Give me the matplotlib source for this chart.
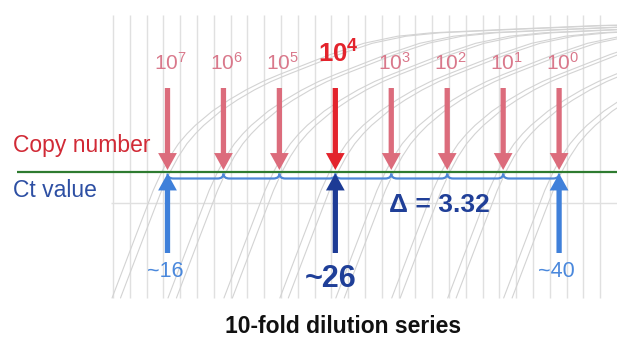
import matplotlib
matplotlib.use("Agg")
import matplotlib.pyplot as plt
import numpy as np
from matplotlib.path import Path
from matplotlib.patches import PathPatch

plt.rcParams['font.family'] = ['Liberation Sans', 'DejaVu Sans']
plt.rcParams['mathtext.fontset'] = 'custom'
plt.rcParams['mathtext.rm'] = 'Liberation Sans'
plt.rcParams['mathtext.bf'] = 'Liberation Sans:bold'

# ---------------- data ----------------
copy_exponents = [7, 6, 5, 4, 3, 2, 1, 0]
ct_values = [16.0, 19.32, 22.64, 25.96, 29.28, 32.60, 35.92, 39.24]
highlight_exponent = 4
threshold = 0.445
delta_label = "\u0394 = 3.32"
ct_label_index = [0, 3, 7]
ct_label_text = ["~16", "~26", "~40"]
ct_label_bold = [False, True, False]

# amplification curve template (cycles relative to Ct, normalised fluorescence)
curve_offsets = [-2.94, -1.5, -0.5, 0.0, 0.5, 1.0, 1.5, 2.0, 3.0, 4.0, 5.0,
                 6.0, 7.0, 8.5, 10.0, 12.0, 14.0, 16.0, 20.0, 26.0, 34.0]
curve_fluor = [0.0, 0.225, 0.38, 0.445, 0.50, 0.545, 0.58, 0.61, 0.66, 0.70,
               0.735, 0.765, 0.79, 0.825, 0.86, 0.90, 0.925, 0.937, 0.948,
               0.963, 0.97]
replicate_shifts = [-0.35, 0.15]

# ---------------- layout helpers ----------------
W, H = 617, 343
PXC = 16.85                  # pixels per cycle
X0 = ct_values[0] - 167.5 / PXC
X1 = X0 + W / PXC
PYF = 283.0                  # pixels per fluorescence unit
def px(x):
    return X0 + x / PXC
def py(y):
    return (298.0 - y) / PYF

fig = plt.figure(figsize=(W / 100, H / 100), dpi=100)
ax = fig.add_axes([0, 0, 1, 1])
ax.set_xlim(X0, X1)
ax.set_ylim(py(H), py(0))
ax.axis('off')

# grid
gx = [px(113 + 16.8 * k) for k in range(31) if 113 + 16.8 * k < W]
ax.vlines(gx, py(298), py(15), color='#e0e0e0', lw=1.0, zorder=1)
ax.hlines(py(203), px(111), X1, color='#e0e0e0', lw=1.0, zorder=1)

# amplification curves
offs = np.array(curve_offsets)
fl = np.array(curve_fluor)
for ct in ct_values:
    for s in replicate_shifts:
        ax.plot(ct + s + offs, fl, color='#d3d3d3', lw=0.8, zorder=2,
                solid_capstyle='round')

# threshold line
ax.hlines(threshold, px(17), X1, color='#2e7b30', lw=1.6, zorder=4)

# braces
r = 0.35
yb = py(178.5)
yt = py(173.5)
for a, b in zip(ct_values[:-1], ct_values[1:]):
    verts = [(a, yt), (a, yb), (a + r, yb), (b - r, yb), (b, yb), (b, yt)]
    codes = [Path.MOVETO, Path.CURVE3, Path.CURVE3, Path.LINETO,
             Path.CURVE3, Path.CURVE3]
    ax.add_patch(PathPatch(Path(verts, codes), fc='none', ec='#4d86d6',
                           lw=1.6, zorder=4))

def arrow(x, y_from, y_to, color):
    ax.annotate('', xy=(x, y_to), xytext=(x, y_from),
                arrowprops=dict(arrowstyle='simple,head_length=1.22,head_width=1.35,tail_width=0.38',
                                mutation_scale=10, color=color, lw=0,
                                shrinkA=0, shrinkB=0), zorder=5)

# down arrows + copy number labels
for e, ct in zip(copy_exponents, ct_values):
    if e == highlight_exponent:
        c = '#e3232c'
        arrow(ct, py(88), py(170), c)
        ax.text(ct + 3 / PXC, py(63), r'$\mathbf{10^{%d}}$' % e, ha='center',
                va='baseline', fontsize=18.5, color=c, zorder=6)
    else:
        c = '#dc6c7c'
        arrow(ct, py(88), py(170), c)
        ax.text(ct + 3 / PXC, py(70), r'$\mathregular{10^{%d}}$' % e, ha='center',
                va='baseline', fontsize=15, color='#d9788b', zorder=6)

# up arrows + Ct labels
for i, t, bold in zip(ct_label_index, ct_label_text, ct_label_bold):
    ct = ct_values[i]
    if bold:
        arrow(ct, py(253), py(173.5), '#1d3b95')
        ax.text(ct - 4.5 / PXC, py(287), t, ha='center', va='baseline',
                fontsize=22, fontweight='bold', color='#1f3f98', zorder=6)
    else:
        arrow(ct, py(253), py(173.5), '#3f80da')
        ax.text(ct - 2.5 / PXC, py(277), t, ha='center', va='baseline',
                fontsize=15.5, color='#4a88dc', zorder=6)

# texts
ax.text(px(13), py(152), 'Copy number', ha='left', va='baseline',
        fontsize=16.5, color='#d12a36', zorder=6)
ax.text(px(13), py(197), 'Ct value', ha='left', va='baseline',
        fontsize=16.5, color='#2d4fa3', zorder=6)
ax.text(px(439), py(212), delta_label, ha='center', va='baseline',
        fontsize=19, fontweight='bold', color='#203f98', zorder=6)
ax.text(px(343), py(333), '10-fold dilution series', ha='center',
        va='baseline', fontsize=16.5, fontweight='bold', color='#111111',
        zorder=6)

fig.savefig('out.png', dpi=100)
